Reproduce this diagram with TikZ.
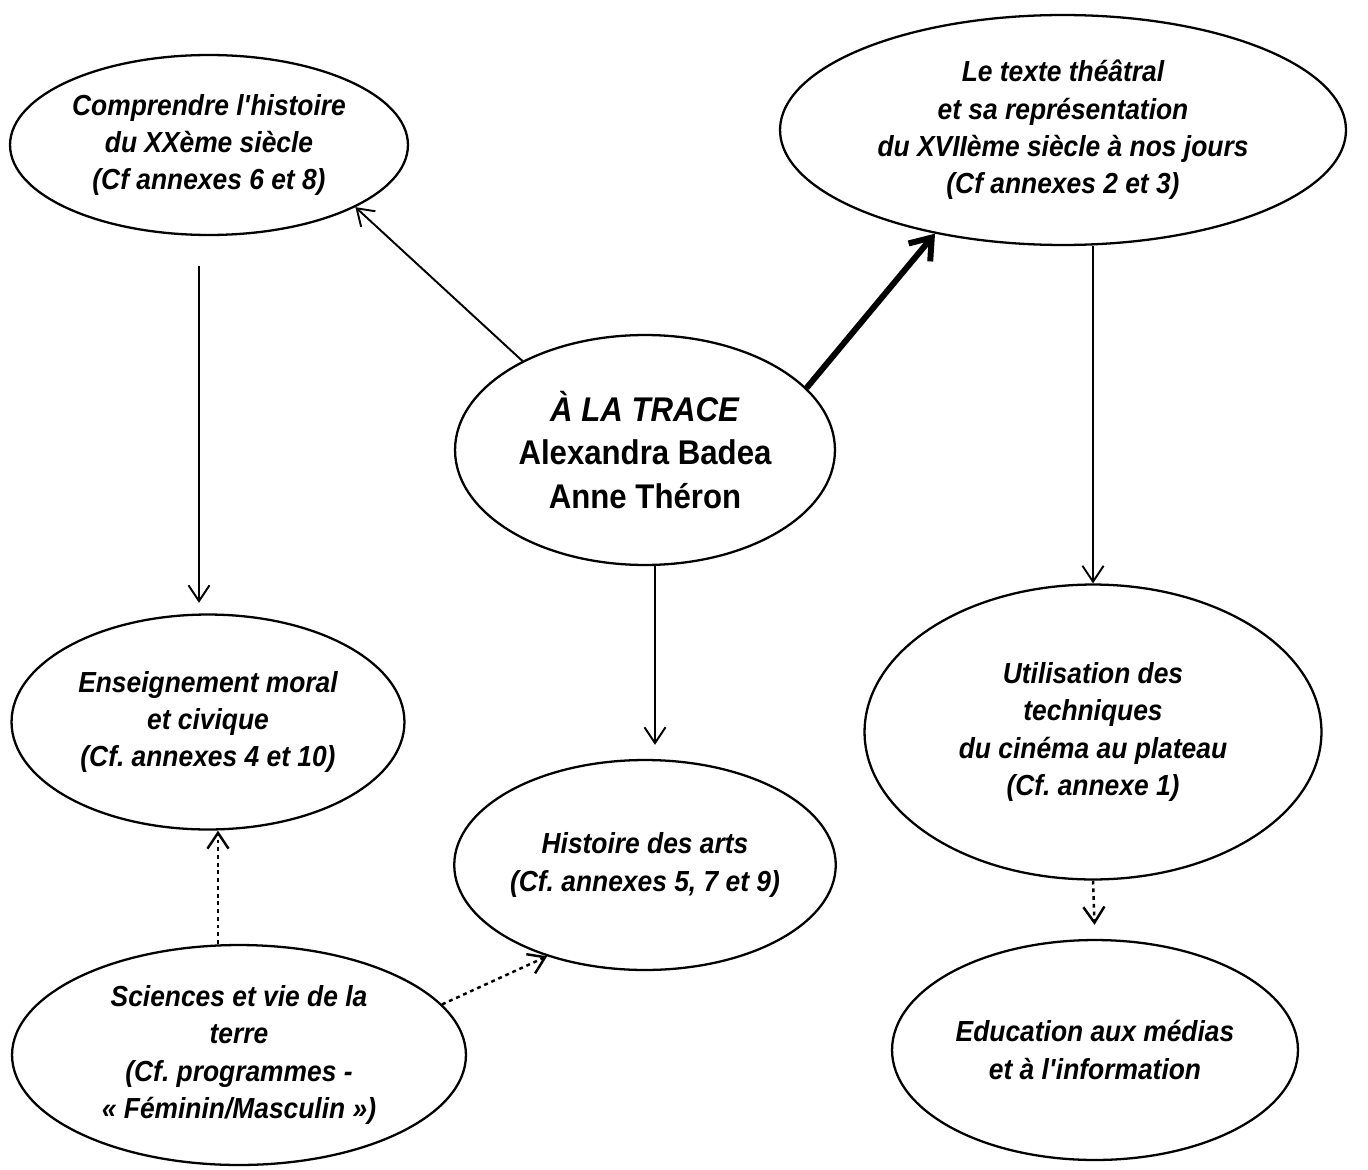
\documentclass[tikz,border=0pt]{standalone}
\usepackage{fontspec}
\setmainfont[FakeStretch=0.91]{Liberation Sans}
\usetikzlibrary{arrows.meta,calc,shapes.geometric}
\frenchspacing

\begin{document}
\begin{tikzpicture}[x=0.02cm, y=-0.02cm, >={Straight Barb[length=9pt,width=12pt]}]
  \tikzstyle{topic} = [ellipse, draw, line width=1.3pt, align=center, inner sep=0pt, font=\fontsize{16.5}{21.3}\selectfont\bfseries\itshape]
  \tikzstyle{line} = [draw, line width=1.1pt, ->]
  \tikzstyle{dotline} = [draw, line width=1.4pt, ->, dash pattern=on 2.2pt off 2.2pt]

  \useasboundingbox (0,0) rectangle (1368,1169);

  \node [topic, minimum width=7.96cm, minimum height=3.6cm] (comp) at (209,145) {Comprendre l\textquotesingle histoire\\du XXème siècle\\(Cf annexes 6 et 8)};
  \node [topic, minimum width=11.32cm, minimum height=4.6cm] (texte) at (1063,130) {Le texte théâtral\\et sa représentation\\du XVIIème siècle à nos jours\\(Cf annexes 2 et 3)};
  \node [topic, minimum width=7.6cm, minimum height=4.6cm, font=\fontsize{19.5}{25}\selectfont\bfseries] (trace) at (645,450) {\textit{À LA TRACE}\\Alexandra Badea\\Anne Théron};
  \node [topic, minimum width=7.86cm, minimum height=4.3cm] (ens) at (208,722) {Enseignement moral\\et civique\\(Cf. annexes 4 et 10)};
  \node [topic, minimum width=9.14cm, minimum height=5.9cm] (util) at (1093,732) {Utilisation des\\techniques\\du cinéma au plateau\\(Cf. annexe 1)};
  \node [topic, minimum width=7.6cm, minimum height=4.2cm] (hist) at (645,865) {Histoire des arts\\(Cf. annexes 5, 7 et 9)};
  \node [topic, minimum width=9.08cm, minimum height=4.4cm] (sci) at (239,1055) {Sciences et vie de la\\terre\\(Cf. programmes -\\« Féminin/Masculin »)};
  \node [topic, minimum width=8.12cm, minimum height=4.4cm] (edu) at (1095,1050) {Education aux médias\\et à l\textquotesingle information};

  \path [line] (trace.144) -- (comp.-23);
  \path [draw, line width=3.4pt, -{Straight Barb[length=11pt,width=16pt]}] (trace.21) -- (texte.-141);
  \path [line, shorten <=17pt, shorten >=6pt] ($(comp.south)+(-10,0)$) -- ($(ens.north)+(-9,0)$);
  \path [line] (util.north |- texte.south) -- (util.north);
  \path [line, shorten >=8pt] ($(trace.south)+(10,0)$) -- ($(hist.north)+(10,0)$);
  \path [dotline] ($(sci.north)+(-21,0)$) -- ($(ens.south)+(10,0)$);
  \path [dotline] (sci.14) -- (hist.-137);
  \path [dotline, shorten >=8pt] (util.south) -- (edu.north);
\end{tikzpicture}
\end{document}
